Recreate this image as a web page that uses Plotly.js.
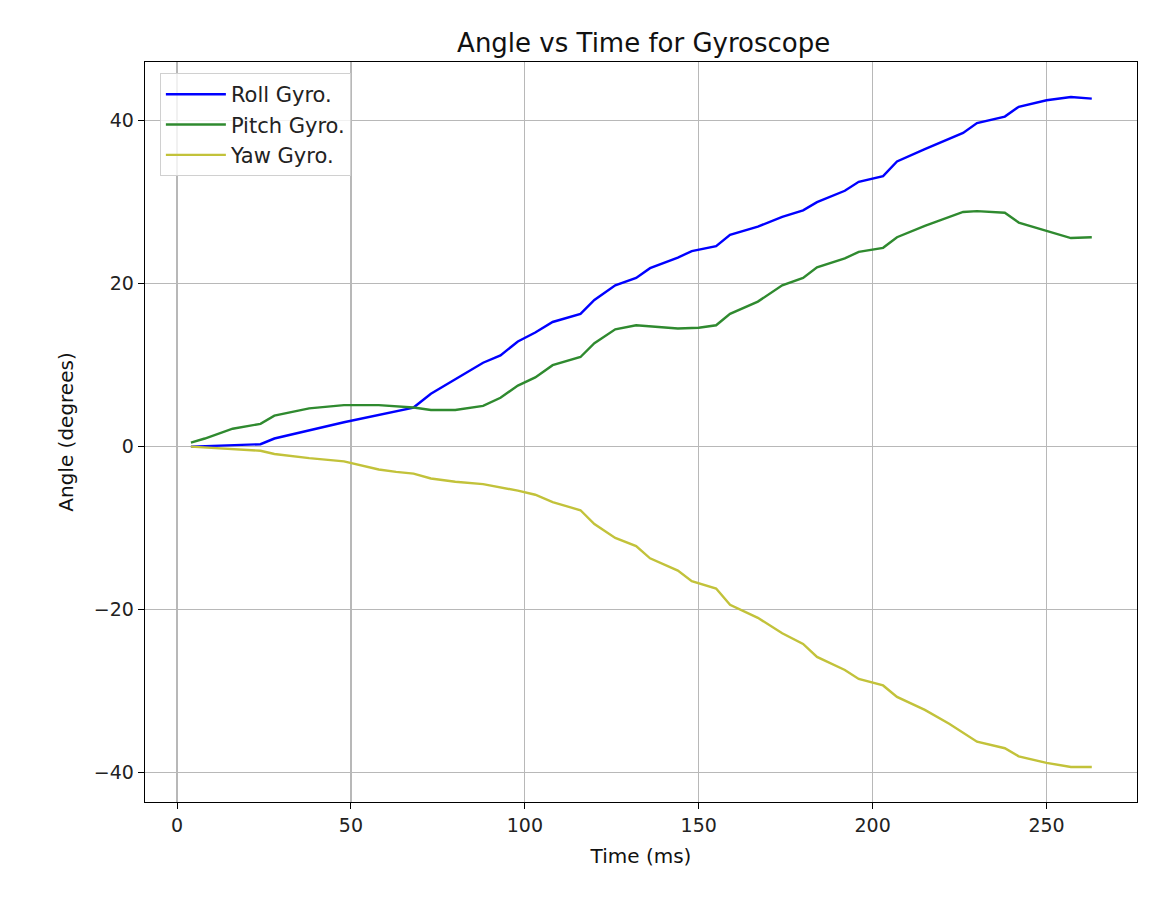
<!DOCTYPE html>
<html>
<head>
<meta charset="utf-8">
<script src="https://cdn.plot.ly/plotly-3.0.1.min.js"></script>
<style>body{margin:0;background:#fff}#chart{width:1164px;height:898px}</style>
</head>
<body>
<div id="chart"></div>
<script>
// values
const rollT = [4,24,28,48,68,73,88,93,98,103,108,116,120,126,132,136,144,148,155,159,167,174,180,184,192,196,203,207,215,226,230,238,242,250,257,263];
const rollV = [0,0.3,1,3,4.8,6.5,10.3,11.2,12.9,14,15.3,16.3,18,19.8,20.7,21.9,23.2,24,24.6,26,27,28.2,29,30,31.4,32.5,33.2,35,36.5,38.5,39.7,40.5,41.7,42.5,42.9,42.7];

const pitchT = [4,8,16,24,28,38,48,58,68,73,80,88,93,98,103,108,116,120,126,132,144,150,155,159,167,174,180,184,192,196,203,207,215,222,226,230,238,242,250,257,263];
const pitchV = [0.5,1,2.2,2.8,3.8,4.7,5.1,5.1,4.8,4.5,4.5,5,6,7.5,8.5,10,11,12.7,14.4,14.9,14.5,14.6,14.9,16.3,17.8,19.8,20.7,22,23.1,23.9,24.4,25.7,27.1,28.2,28.8,28.9,28.7,27.5,26.5,25.6,25.7];

const yawT = [4,16,24,28,38,48,58,63,68,73,80,88,93,98,103,108,116,120,126,132,136,144,148,155,159,167,174,180,184,192,196,203,207,215,222,226,230,238,242,250,257,263];
const yawV = [0,-0.3,-0.5,-0.9,-1.4,-1.8,-2.8,-3.1,-3.3,-3.9,-4.3,-4.6,-5,-5.4,-5.9,-6.8,-7.8,-9.5,-11.2,-12.2,-13.7,-15.2,-16.5,-17.4,-19.4,-21,-22.9,-24.2,-25.8,-27.4,-28.5,-29.3,-30.7,-32.3,-34,-35.1,-36.2,-37,-38,-38.8,-39.3,-39.3];

const FONT = 'DejaVu Sans, sans-serif';

let traces = [
    {x: rollT, y: rollV, name: 'Roll Gyro.', mode: 'lines', line: {color: '#0000ff', width: 2.4}},
    {x: pitchT, y: pitchV, name: 'Pitch Gyro.', mode: 'lines', line: {color: '#2f8a2f', width: 2.4}},
    {x: yawT, y: yawV, name: 'Yaw Gyro.', mode: 'lines', line: {color: '#c2c23a', width: 2.4}},
];

let axisCommon = {
    showline: true, mirror: true, linecolor: '#000', linewidth: 1.3,
    showgrid: true, gridcolor: '#b8b8b8', gridwidth: 1.3,
    zeroline: false, ticks: 'outside', ticklen: 6, tickcolor: '#000',
    tickfont: {family: FONT, size: 19, color: '#222'},
};

let layout = {
    width: 1164, height: 898,
    margin: {l: 145, r: 27, t: 62, b: 96},
    paper_bgcolor: '#fff', plot_bgcolor: '#fff',
    title: {text: 'Angle vs Time for Gyroscope', font: {family: FONT, size: 26, color: '#111'}, x: 0.553, y: 0.962, xanchor: 'center'},
    xaxis: Object.assign({}, axisCommon, {
        range: [-9.2, 276], tickvals: [0, 50, 100, 150, 200, 250],
        title: {text: 'Time (ms)', font: {family: FONT, size: 20, color: '#111'}, standoff: 14},
    }),
    yaxis: Object.assign({}, axisCommon, {
        range: [-43.6, 47.2], tickvals: [-40, -20, 0, 20, 40],
        title: {text: 'Angle (degrees)', font: {family: FONT, size: 20, color: '#111'}, standoff: 14},
    }),
    showlegend: true,
    legend: {
        x: 0.015, y: 0.985, xanchor: 'left', yanchor: 'top',
        bgcolor: 'rgba(255,255,255,0.8)', bordercolor: '#d0d0d0', borderwidth: 1,
        font: {family: FONT, size: 21, color: '#222'},
        itemwidth: 60,
    },
};

Plotly.newPlot('chart', traces, layout, {staticPlot: true});
</script>
</body>
</html>
